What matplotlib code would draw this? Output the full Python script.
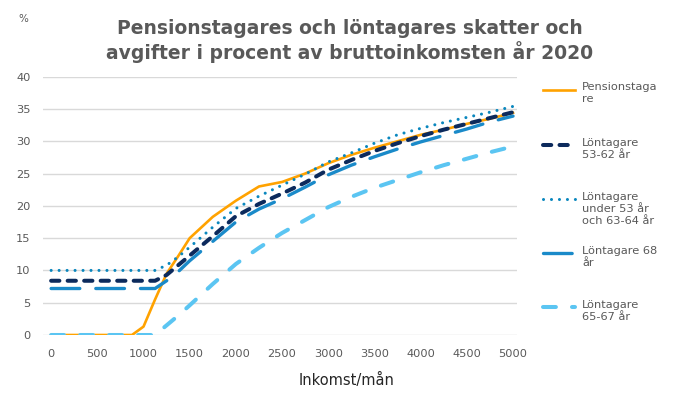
import matplotlib
matplotlib.use("Agg")
import matplotlib.pyplot as plt
from matplotlib.lines import Line2D

# inkomst per månad
inkomst = [0, 250, 500, 750, 875, 1000, 1125, 1250, 1375, 1500, 1750, 2000,
           2250, 2500, 2750, 3000, 3250, 3500, 3750, 4000, 4250, 4500, 4750, 5000]

pensionstagare = [0, 0, 0, 0, 0, 1.3, 5.5, 9.5, 12.2, 15.0, 18.3, 20.8,
                  23.0, 23.7, 25.0, 26.6, 27.9, 29.0, 30.0, 31.0, 31.8, 32.7, 33.5, 34.4]
lon_53_62 = [8.4, 8.4, 8.4, 8.4, 8.4, 8.4, 8.4, 9.3, 10.8, 12.3, 15.3, 18.4,
             20.3, 21.9, 23.6, 25.6, 27.1, 28.5, 29.7, 30.8, 31.8, 32.7, 33.6, 34.5]
lon_under53 = [10, 10, 10, 10, 10, 10, 10, 10.8, 12.1, 13.6, 16.7, 19.6,
               21.5, 23.2, 24.9, 26.8, 28.2, 29.7, 31.0, 32.0, 32.9, 33.7, 34.5, 35.4]
lon_68 = [7.2, 7.2, 7.2, 7.2, 7.2, 7.2, 7.2, 8.4, 9.8, 11.5, 14.5, 17.5,
          19.5, 21.1, 22.9, 24.8, 26.3, 27.6, 28.8, 29.9, 30.9, 31.9, 33.0, 33.9]
lon_65_67 = [0, 0, 0, 0, 0, 0, 0, 1.5, 3.0, 4.6, 7.9, 11.0,
             13.5, 15.8, 17.8, 19.8, 21.4, 22.8, 24.0, 25.2, 26.3, 27.3, 28.3, 29.2]

etiketter = ["Pensionstaga\nre", "Löntagare\n53-62 år", "Löntagare\nunder 53 år\noch 63-64 år",
             "Löntagare 68\når", "Löntagare\n65-67 år"]
serier = [pensionstagare, lon_53_62, lon_under53, lon_68, lon_65_67]
farger = ["#FFA200", "#0C2A5C", "#0A87BE", "#1A8AC9", "#5BC5F2"]
stilar = [dict(lw=1.9, ls="-"),
          dict(lw=2.9, ls=(0, (2.05, 2.05)), dash_capstyle="round"),
          dict(lw=2.2, ls=(0, (0.01, 2.6)), dash_capstyle="round"),
          dict(lw=2.4, ls=(0, (8.6, 4.8)), dash_capstyle="round"),
          dict(lw=2.9, ls=(0, (3.2, 4.0)), dash_capstyle="round")]

grey = "#595959"

fig = plt.figure(figsize=(6.89, 3.97), dpi=100)
ax = fig.add_axes([43 / 689, 1 - 335 / 397, 474 / 689, 258.3 / 397])

for y, c, st in zip(serier, farger, stilar):
    ax.plot(inkomst, y, color=c, **st)

ax.set_xlim(-88, 5043)
ax.set_ylim(0, 40)
ax.set_xticks(range(0, 5001, 500))
ax.set_yticks(range(0, 41, 5))
ax.grid(axis="y", color="#D9D9D9", lw=1)
ax.set_axisbelow(True)
for s in ax.spines.values():
    s.set_visible(False)
ax.tick_params(length=0, labelsize=8.2, labelcolor=grey)
ax.tick_params(axis="y", pad=9)
ax.tick_params(axis="x", pad=10)

fig.text(350 / 689, 1 - 41 / 397,
         "Pensionstagares och löntagares skatter och\navgifter i procent av bruttoinkomsten år 2020",
         ha="center", va="center", fontsize=13.5, fontweight="bold", color=grey,
         linespacing=1.2)
fig.text(347 / 689, 1 - 380 / 397, "Inkomst/mån", ha="center", va="center",
         fontsize=10.5, color="#262626")
fig.text(23 / 689, 1 - 19 / 397, "%", ha="center", va="center", fontsize=7.5, color=grey)

# förklaring
leg_y = [90, 145, 199, 253, 307]
for lab, c, st, yy in zip(etiketter, farger, stilar, leg_y):
    yf = 1 - yy / 397
    fig.add_artist(Line2D([543 / 689, 575 / 689], [yf, yf], color=c, **st))
    fig.text(582 / 689, yf + 7.5 / 397, lab, ha="left", va="top", fontsize=8.2,
             color=grey, linespacing=1.25)

fig.savefig("out.png", dpi=100)
